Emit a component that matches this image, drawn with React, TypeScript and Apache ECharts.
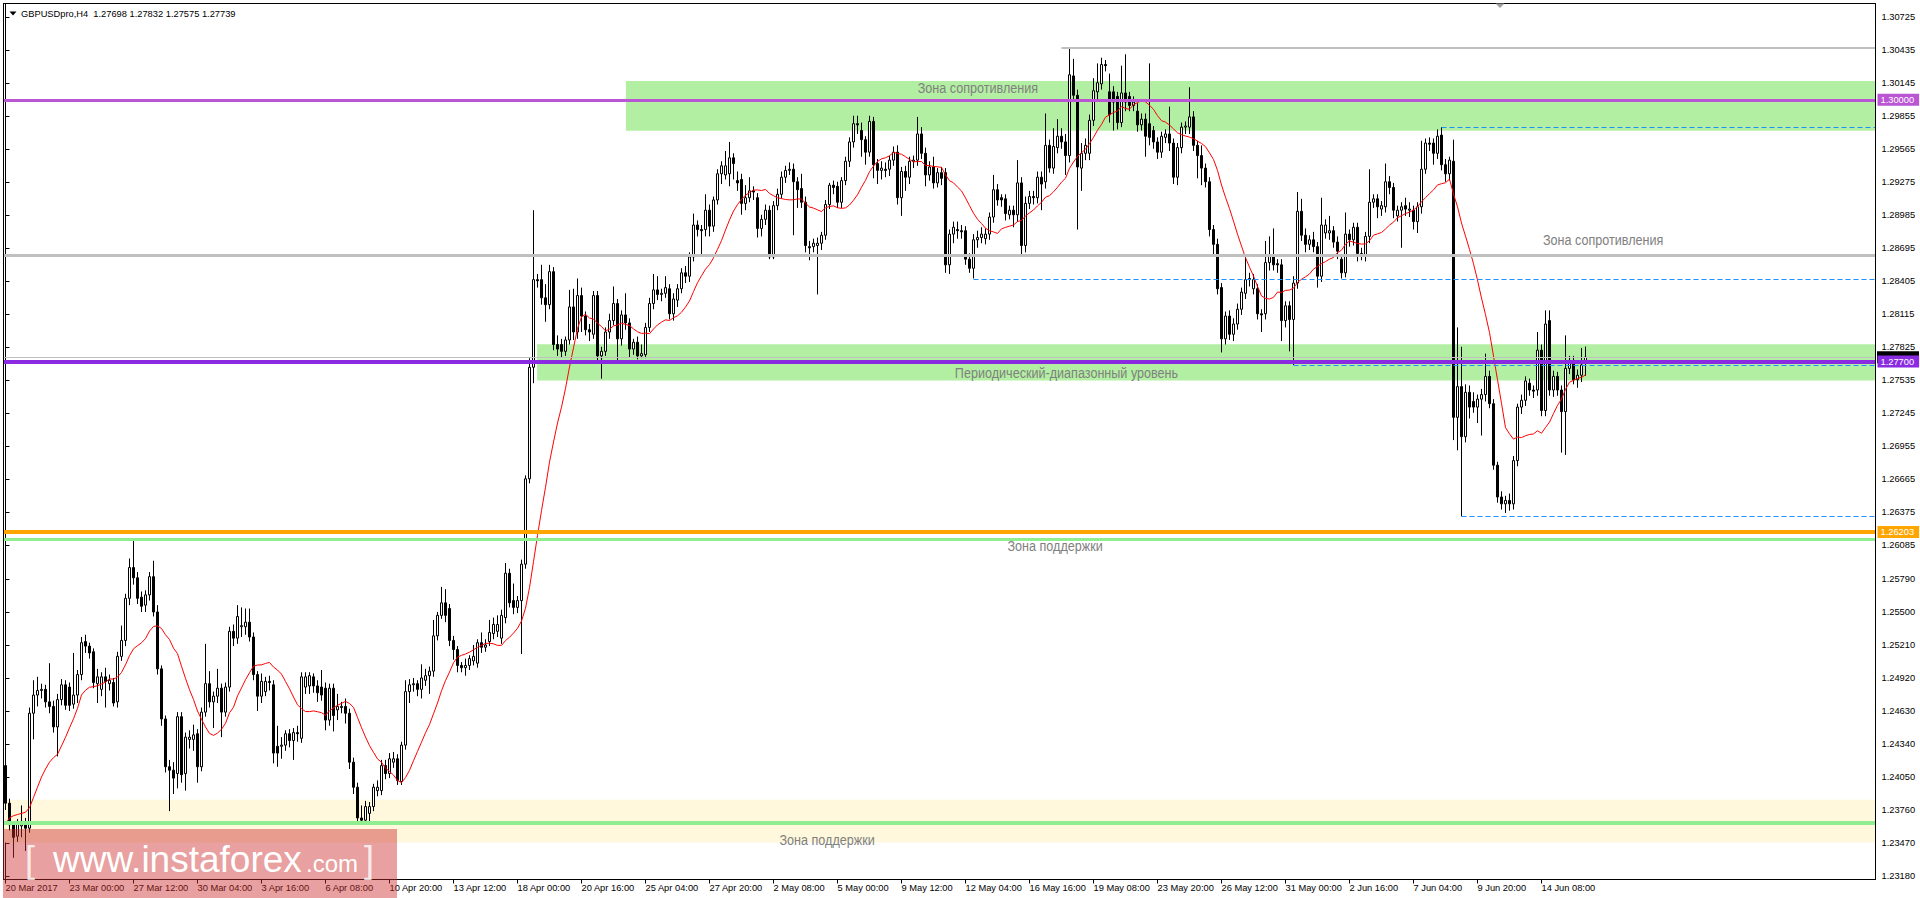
import { useEffect, useRef } from "react";
import * as echarts from "echarts";

const FONT = "'Liberation Sans', Arial, Helvetica, sans-serif";

const headerText = "GBPUSDpro,H4\u00a0 1.27698 1.27832 1.27575 1.27739";

// time axis: one slot per H4 bar, labels every 16 bars
const timeTicks = [
  "20 Mar 2017", "23 Mar 00:00", "27 Mar 12:00", "30 Mar 04:00", "3 Apr 16:00",
  "6 Apr 08:00", "10 Apr 20:00", "13 Apr 12:00", "18 Apr 00:00", "20 Apr 16:00",
  "25 Apr 04:00", "27 Apr 20:00", "2 May 08:00", "5 May 00:00", "9 May 12:00",
  "12 May 04:00", "16 May 16:00", "19 May 08:00", "23 May 20:00", "26 May 12:00",
  "31 May 00:00", "2 Jun 16:00", "7 Jun 04:00", "9 Jun 20:00", "14 Jun 08:00",
];
const TIME_TICK_STEP = 16;
const SLOT_COUNT = 468;

const priceTicks = [
  1.30725, 1.30435, 1.30145, 1.29855, 1.29565, 1.29275, 1.28985, 1.28695, 1.28405,
  1.28115, 1.27825, 1.27535, 1.27245, 1.26955, 1.26665, 1.26375, 1.26085, 1.2579,
  1.255, 1.2521, 1.2492, 1.2463, 1.2434, 1.2405, 1.2376, 1.2347, 1.2318,
];
const PRICE_MIN = 1.2314922;
const PRICE_MAX = 1.3084626;

// bars: [open, close, low, high]
const barsA = [
  [1.2415,1.2382,1.2376,1.2424],[1.2382,1.2363,1.2358,1.2386],[1.2363,1.2352,1.2334,1.2366],[1.2353,1.2365,1.2348,1.2368],
  [1.2362,1.2366,1.2352,1.238],[1.2365,1.236,1.234,1.2369],[1.236,1.2461,1.2356,1.2466],[1.2461,1.2477,1.2438,1.249],
  [1.2477,1.2481,1.2467,1.2493],[1.2481,1.2482,1.2474,1.2487],[1.2482,1.2471,1.2466,1.2486],[1.2471,1.2467,1.2461,1.2505],
  [1.2467,1.2449,1.2444,1.2472],[1.2449,1.2473,1.2423,1.2478],[1.2473,1.2486,1.2468,1.2491],[1.2486,1.2468,1.2464,1.249],
  [1.2484,1.2468,1.2463,1.2488],[1.2469,1.2477,1.2465,1.2514],[1.2477,1.2495,1.247,1.2499],[1.2495,1.2523,1.249,1.2528],
  [1.2524,1.252,1.2514,1.253],[1.252,1.2514,1.2509,1.2523],[1.2515,1.2488,1.2483,1.2518],[1.2487,1.2493,1.247,1.25],
  [1.2482,1.2493,1.2476,1.2497],[1.2493,1.2489,1.2466,1.2501],[1.2487,1.249,1.2481,1.2495],[1.2488,1.247,1.2467,1.2492],
  [1.2471,1.2511,1.2466,1.2515],[1.2511,1.2525,1.2507,1.2538],[1.2525,1.2562,1.252,1.2566],[1.2562,1.2589,1.2556,1.2597],
  [1.2589,1.258,1.2574,1.2614],[1.258,1.2562,1.2557,1.2585],[1.2563,1.2555,1.255,1.2568],[1.2556,1.2565,1.255,1.2569],
  [1.2565,1.2581,1.256,1.2585],[1.2581,1.255,1.2546,1.2595],[1.255,1.25,1.2495,1.2556],[1.25,1.2456,1.245,1.2503],
  [1.2456,1.2414,1.2409,1.2459],[1.2414,1.2411,1.2375,1.242],[1.2411,1.2404,1.239,1.2418],[1.2408,1.2458,1.2395,1.2462],
  [1.2458,1.2407,1.24,1.2462],[1.2408,1.244,1.2393,1.2444],[1.2438,1.244,1.243,1.2446],[1.2438,1.2442,1.2428,1.2451],
  [1.2443,1.2414,1.24,1.2447],[1.2414,1.2462,1.241,1.2466],[1.2462,1.2487,1.2458,1.2522],[1.2487,1.2471,1.2466,1.2498],
  [1.2471,1.2476,1.2448,1.248],[1.2476,1.2483,1.247,1.25],[1.2483,1.2462,1.244,1.2487],[1.2462,1.2484,1.2458,1.2488],
  [1.2484,1.2533,1.248,1.2537],[1.2533,1.2527,1.252,1.2539],[1.2527,1.2546,1.2522,1.2556],[1.2537,1.2538,1.2528,1.2554],
  [1.2537,1.2541,1.253,1.2553],[1.2541,1.2528,1.2524,1.2553],[1.2528,1.2495,1.249,1.2532],[1.2495,1.2476,1.2463,1.2498],
  [1.2476,1.2489,1.247,1.2496],[1.248,1.2489,1.2476,1.2493],[1.2489,1.2488,1.2481,1.2494],[1.2486,1.2426,1.2417,1.249],
  [1.2432,1.2426,1.2414,1.245],[1.2432,1.2433,1.2421,1.244],[1.2433,1.2443,1.2428,1.2446],[1.2443,1.2437,1.2431,1.2447],
  [1.2437,1.2444,1.242,1.2448],[1.2444,1.2443,1.2436,1.245],[1.2439,1.2493,1.2435,1.2497],[1.2484,1.2493,1.2478,1.2497],
  [1.2485,1.2494,1.2478,1.2497],[1.2493,1.2485,1.2479,1.2496],[1.2485,1.2479,1.2471,1.249],[1.2484,1.2477,1.2472,1.2499],
  [1.2483,1.2455,1.2446,1.2488],[1.2455,1.2483,1.245,1.2487],[1.2483,1.2459,1.2445,1.2487],[1.2464,1.2467,1.2455,1.2478],
  [1.2466,1.2467,1.2461,1.2471],[1.2467,1.2461,1.2452,1.2474],[1.2461,1.2418,1.2412,1.2465],[1.2418,1.2396,1.239,1.2422],
  [1.2396,1.2369,1.2363,1.24],[1.2369,1.2367,1.2364,1.238],[1.2367,1.2379,1.2364,1.2384],[1.2373,1.2379,1.2366,1.2383],
  [1.2379,1.2396,1.2375,1.2399],[1.2393,1.2396,1.2388,1.2402],[1.2393,1.2415,1.2389,1.242],[1.2415,1.2408,1.2403,1.242],
  [1.2408,1.2421,1.2404,1.2426],[1.2418,1.2421,1.2413,1.2427],[1.2421,1.2402,1.2398,1.2425],
];
const barsB = [
  [1.2401,1.2433,1.2398,1.2436],[1.2433,1.248,1.2429,1.249],[1.248,1.2486,1.247,1.2491],[1.2486,1.2487,1.248,1.2492],
  [1.2487,1.2482,1.2476,1.249],[1.2482,1.2492,1.2474,1.2504],[1.249,1.2494,1.2485,1.25],[1.2494,1.2498,1.2478,1.2502],
  [1.2498,1.2529,1.2493,1.2543],[1.2529,1.2547,1.2525,1.255],[1.2547,1.2558,1.2544,1.2572],[1.2558,1.2547,1.2541,1.257],
  [1.2553,1.2525,1.252,1.2557],[1.2525,1.2517,1.2508,1.2529],[1.2517,1.2503,1.2497,1.252],[1.2503,1.2501,1.2497,1.2506],
  [1.2501,1.2503,1.2494,1.2509],[1.2503,1.2509,1.2499,1.2512],[1.2507,1.2511,1.2503,1.2521],[1.2505,1.2523,1.2501,1.2526],
  [1.2523,1.2519,1.2514,1.2532],[1.2519,1.2521,1.2515,1.2526],[1.2524,1.2532,1.252,1.2543],[1.2531,1.2539,1.2526,1.2545],
  [1.2533,1.2539,1.2528,1.2547],[1.2527,1.2547,1.2522,1.2552],[1.2545,1.2584,1.254,1.2593],[1.2584,1.2558,1.2554,1.2588],
  [1.256,1.2554,1.2548,1.2575],[1.2554,1.256,1.2549,1.2564],[1.256,1.2592,1.2513,1.2596],[1.2592,1.2667,1.2588,1.267],
  [1.2667,1.2765,1.2663,1.2773],[1.2765,1.2842,1.2751,1.2903],[1.2842,1.2841,1.2835,1.2847],[1.2842,1.2826,1.282,1.2855],
  [1.2826,1.282,1.2805,1.2838],[1.282,1.2849,1.2816,1.2855],[1.2849,1.2785,1.278,1.2853],[1.2785,1.2781,1.2775,1.2793],
  [1.2785,1.2779,1.2774,1.279],[1.2779,1.2789,1.2775,1.2792],[1.2789,1.2818,1.2785,1.2833],[1.2818,1.2796,1.2789,1.2834],
  [1.2796,1.2828,1.279,1.2843],[1.2828,1.281,1.2796,1.2835],[1.281,1.2798,1.2793,1.2814],[1.2798,1.2796,1.2788,1.2803],
  [1.2794,1.2828,1.279,1.2832],[1.2828,1.2775,1.2771,1.2832],[1.2775,1.2779,1.2755,1.2783],[1.2779,1.2796,1.2775,1.28],
  [1.2796,1.2806,1.279,1.2812],[1.2806,1.2821,1.2802,1.2836],[1.2821,1.279,1.2771,1.2825],[1.279,1.2811,1.2784,1.2815],
  [1.2811,1.2804,1.2798,1.283],[1.2804,1.2781,1.2774,1.2808],[1.2781,1.2787,1.2776,1.279],[1.2787,1.2775,1.2772,1.2792],
  [1.2775,1.2777,1.2773,1.2785],[1.2776,1.28,1.2773,1.2804],[1.28,1.2821,1.2796,1.2826],[1.2821,1.2833,1.2816,1.2847],
  [1.2833,1.2829,1.2824,1.2845],[1.2829,1.283,1.2823,1.2834],[1.283,1.2835,1.2826,1.2845],[1.2834,1.2812,1.2807,1.2838],
  [1.2812,1.2825,1.2806,1.283],[1.2824,1.2834,1.2818,1.2838],[1.2834,1.2848,1.283,1.2852],[1.2848,1.2845,1.2839,1.2854],
  [1.2845,1.2862,1.284,1.2866],[1.2862,1.289,1.2858,1.29],[1.289,1.2886,1.288,1.2894],[1.2886,1.2885,1.2862,1.289],
  [1.2886,1.2903,1.288,1.2917],[1.2903,1.2889,1.288,1.2908],[1.2889,1.2912,1.2884,1.2915],[1.2912,1.2935,1.2908,1.2939],
  [1.2935,1.2942,1.2926,1.2946],[1.2934,1.2942,1.293,1.2955],[1.2935,1.2949,1.2924,1.2963],[1.2949,1.2944,1.293,1.2953],
  [1.2929,1.2927,1.292,1.2937],[1.293,1.2909,1.2899,1.2935],[1.2909,1.2914,1.2903,1.2925],[1.2914,1.292,1.291,1.2932],
  [1.292,1.2919,1.2912,1.2924],[1.2914,1.2887,1.2879,1.2918],[1.2887,1.2895,1.288,1.2899],[1.2895,1.2903,1.289,1.2908],
  [1.2903,1.2862,1.286,1.2907],[1.2862,1.2907,1.286,1.2911],[1.2907,1.2917,1.2903,1.2922],[1.2917,1.2932,1.2913,1.2937],
  [1.2932,1.2938,1.2927,1.2942],[1.2938,1.2939,1.2934,1.2945],[1.2939,1.2928,1.2881,1.2944],[1.2928,1.2921,1.2905,1.2932],
];
const barsC = [
  [1.2922,1.291,1.2905,1.2935],[1.291,1.2872,1.2866,1.2915],[1.2871,1.287,1.2859,1.2876],[1.2871,1.2874,1.2866,1.2878],
  [1.2872,1.2874,1.2829,1.2879],[1.2874,1.2881,1.2868,1.2884],[1.2881,1.2908,1.2877,1.2912],[1.2908,1.2925,1.2904,1.2927],
  [1.2925,1.2923,1.2917,1.2929],[1.2924,1.291,1.2905,1.2928],[1.291,1.2929,1.2905,1.2932],[1.2929,1.2946,1.2925,1.295],
  [1.2946,1.2963,1.2941,1.2967],[1.2963,1.2979,1.2958,1.2986],[1.2979,1.2978,1.297,1.2986],[1.2973,1.2965,1.295,1.298],
  [1.2965,1.2954,1.2943,1.2968],[1.2954,1.2981,1.295,1.2986],[1.2981,1.2943,1.2931,1.2985],[1.2944,1.2938,1.2926,1.2948],
  [1.2938,1.294,1.293,1.2946],[1.2939,1.2938,1.2932,1.2945],[1.2939,1.2947,1.2933,1.2951],[1.2947,1.2954,1.2942,1.2959],
  [1.2954,1.2914,1.2908,1.296],[1.2914,1.2937,1.2898,1.2941],[1.2937,1.2932,1.292,1.2942],[1.2932,1.2946,1.2926,1.295],
  [1.2946,1.2947,1.294,1.2951],[1.2947,1.297,1.2942,1.2985],[1.297,1.2953,1.2948,1.2976],[1.2953,1.2934,1.2924,1.2958],
  [1.2934,1.2941,1.2929,1.2946],[1.2941,1.2927,1.2922,1.295],[1.2927,1.2936,1.2923,1.294],[1.2936,1.2931,1.2925,1.2941],
  [1.2936,1.2855,1.2848,1.294],[1.2855,1.2882,1.2847,1.2886],[1.2882,1.2888,1.2874,1.2893],[1.2886,1.2885,1.2878,1.2893],
  [1.2885,1.2884,1.2878,1.289],[1.2885,1.286,1.2855,1.2889],[1.286,1.2852,1.2848,1.2865],[1.2852,1.2877,1.2843,1.2882],
  [1.2877,1.2879,1.287,1.2885],[1.2879,1.2882,1.2874,1.2888],[1.2878,1.2882,1.2873,1.2887],[1.2882,1.2897,1.2877,1.2901],
  [1.2897,1.2921,1.2892,1.2934],[1.2921,1.2912,1.2907,1.2926],[1.2914,1.2912,1.2906,1.2917],[1.2913,1.29,1.2894,1.2917],
  [1.2899,1.2903,1.2895,1.2907],[1.2903,1.2899,1.2888,1.2907],[1.2899,1.2927,1.2893,1.2947],[1.2927,1.2872,1.2863,1.2932],
  [1.2872,1.2909,1.2866,1.2915],[1.2909,1.2915,1.2904,1.292],[1.2915,1.2914,1.2908,1.292],[1.2914,1.2932,1.2909,1.2937],
  [1.2932,1.2926,1.2903,1.2937],[1.2928,1.296,1.2922,1.2988],[1.296,1.294,1.2936,1.2965],[1.294,1.2959,1.2935,1.2975],
  [1.2958,1.2968,1.2953,1.2983],[1.2968,1.2963,1.2957,1.2975],[1.2963,1.2951,1.2934,1.297],[1.2951,1.3022,1.2945,1.3045],
  [1.3021,1.3004,1.2998,1.3036],[1.3004,1.2941,1.2886,1.3009],[1.294,1.2953,1.292,1.2962],[1.2953,1.296,1.2947,1.2966],
  [1.2953,1.2982,1.2947,1.2987],[1.2982,1.3008,1.2977,1.3019],[1.3007,1.3015,1.3,1.3032],[1.3014,1.3031,1.3009,1.3037],
  [1.3031,1.303,1.3025,1.3035],[1.3007,1.2987,1.298,1.3023],[1.3007,1.2998,1.2973,1.3012],[1.3003,1.298,1.2974,1.3007],
  [1.298,1.3006,1.2976,1.303],[1.3006,1.2998,1.299,1.304],[1.3003,1.2995,1.299,1.3007],[1.2995,1.2998,1.299,1.3003],
  [1.299,1.2978,1.2972,1.2997],[1.2978,1.2983,1.2973,1.2988],[1.2983,1.2968,1.295,1.2988],[1.2979,1.2967,1.296,1.3032],
  [1.2973,1.2963,1.2957,1.2977],[1.2963,1.2954,1.2948,1.2967],[1.2954,1.2968,1.2949,1.2972],[1.2967,1.297,1.2962,1.2974],
  [1.297,1.2962,1.2955,1.2994],[1.2962,1.2932,1.2926,1.2966],[1.2932,1.2958,1.2925,1.2962],[1.2958,1.2976,1.2953,1.298],
  [1.2976,1.2977,1.297,1.2981],[1.2976,1.2985,1.297,1.3011],[1.2985,1.296,1.2955,1.299],[1.296,1.2951,1.2931,1.2964],
];
const barsD = [
  [1.2951,1.294,1.2925,1.296],[1.294,1.2928,1.2923,1.2944],[1.2928,1.2886,1.288,1.2932],[1.2886,1.2873,1.2864,1.289],
  [1.2873,1.2834,1.2829,1.2878],[1.2835,1.279,1.2778,1.2839],[1.279,1.281,1.2785,1.2814],[1.281,1.2794,1.2789,1.2815],
  [1.2794,1.2803,1.2788,1.2808],[1.2803,1.2816,1.2798,1.2821],[1.2816,1.2831,1.2811,1.2835],[1.283,1.2842,1.2825,1.2862],
  [1.2842,1.2843,1.2836,1.2848],[1.2834,1.2842,1.2829,1.2847],[1.2834,1.2812,1.2807,1.2838],[1.2812,1.2811,1.2796,1.2816],
  [1.2812,1.2857,1.2807,1.2876],[1.2857,1.2864,1.285,1.288],[1.2864,1.2855,1.285,1.2887],[1.2856,1.2855,1.2848,1.286],
  [1.2855,1.2806,1.2788,1.286],[1.2806,1.2819,1.28,1.2823],[1.2819,1.2807,1.2779,1.2823],[1.2807,1.2839,1.2767,1.2845],
  [1.2839,1.2902,1.2834,1.2919],[1.2902,1.2881,1.2876,1.2913],[1.2881,1.2873,1.2866,1.2887],[1.2873,1.2877,1.2868,1.2881],
  [1.2877,1.2871,1.2866,1.2884],[1.2871,1.2845,1.2835,1.2875],[1.2845,1.289,1.284,1.2914],[1.2883,1.289,1.2878,1.2895],
  [1.2883,1.2885,1.2877,1.2898],[1.2885,1.2875,1.287,1.2889],[1.2875,1.2867,1.286,1.288],[1.286,1.2848,1.2843,1.2864],
  [1.2848,1.2882,1.2844,1.2901],[1.2882,1.2877,1.2871,1.2886],[1.2877,1.2888,1.2872,1.2892],[1.2888,1.2865,1.2858,1.2892],
  [1.2865,1.2865,1.2859,1.287],[1.2864,1.288,1.2858,1.2884],[1.288,1.291,1.2874,1.2939],[1.291,1.2913,1.2905,1.2917],
  [1.2913,1.2906,1.2896,1.2917],[1.2904,1.2907,1.2898,1.2911],[1.2906,1.2928,1.2901,1.2944],[1.2928,1.2923,1.2917,1.2933],
  [1.2923,1.2903,1.2896,1.2927],[1.2898,1.2903,1.2893,1.2907],[1.2903,1.2906,1.287,1.291],[1.2907,1.2904,1.2898,1.2914],
  [1.2903,1.2904,1.2897,1.291],[1.2903,1.2893,1.2886,1.2907],[1.2893,1.2906,1.2883,1.291],[1.2906,1.2939,1.29,1.2964],
  [1.2939,1.2962,1.2935,1.2966],[1.2962,1.2961,1.2955,1.2967],[1.2962,1.2953,1.2943,1.2966],[1.2953,1.2968,1.2948,1.2974],
  [1.2969,1.2943,1.2938,1.2976],[1.2943,1.2935,1.2928,1.2948],[1.2935,1.2947,1.2929,1.295],[1.2946,1.2721,1.2701,1.2965],
  [1.2721,1.2748,1.2692,1.28],[1.2748,1.2704,1.2634,1.2783],[1.2704,1.2743,1.2699,1.275],[1.2743,1.273,1.272,1.2749],
  [1.2735,1.273,1.2725,1.2743],[1.273,1.2737,1.2716,1.2741],[1.2737,1.2741,1.2705,1.2746],[1.2741,1.2757,1.2735,1.2777],
  [1.2757,1.2733,1.2729,1.2762],[1.2733,1.2679,1.2675,1.2737],[1.2679,1.2651,1.2646,1.2682],[1.2651,1.2645,1.264,1.2656],
  [1.2645,1.2648,1.2637,1.2652],[1.2648,1.2645,1.2639,1.2654],[1.2645,1.2683,1.264,1.2687],[1.2683,1.273,1.2678,1.2733],
  [1.273,1.2736,1.2724,1.2741],[1.2736,1.2753,1.2731,1.2757],[1.2751,1.2745,1.274,1.2755],[1.2745,1.2744,1.2738,1.2749],
  [1.2745,1.278,1.274,1.2796],[1.278,1.2727,1.2722,1.2785],[1.2727,1.2803,1.2722,1.2815],[1.2806,1.2745,1.274,1.2815],
  [1.2745,1.2757,1.2739,1.2762],[1.2757,1.2745,1.274,1.2761],[1.2745,1.2726,1.269,1.2749],[1.2726,1.2764,1.2688,1.2793],
  [1.2764,1.2771,1.2759,1.2775],[1.2771,1.2754,1.275,1.2775],[1.2754,1.2758,1.2747,1.2763],[1.2758,1.2767,1.2752,1.2782],
  [1.27698,1.27739,1.27575,1.27832],
];

// moving average (14, close) – values of the first 13 bars
const MA_PERIOD = 14;
const maHead = [1.2364, 1.2369, 1.2371, 1.2372, 1.2373, 1.2374, 1.2378, 1.2387, 1.2396, 1.2405, 1.2412, 1.2418, 1.2422];

const ZONE_GREEN = "#b3efa2";
const zones = [
  { from: 155.1, top: 1.30165, bottom: 1.29729, color: ZONE_GREEN },
  { from: 132.9, top: 1.27852, bottom: 1.27534, color: ZONE_GREEN },
  { from: null as number | null, top: 1.23849, bottom: 1.23474, color: "#fff8dc" },
];

// current bid (its price tag sits behind the 1.27700 tag)
const BID_PRICE = 1.27739;

const levels = [
  { price: BID_PRICE, color: "#c0c0c0", width: 1, tag: "", tagBg: "" },
  { price: 1.28633, color: "#c0c0c0", width: 3, tag: "", tagBg: "" },
  { price: 1.3, color: "#ba55d3", width: 3, tag: "1.30000", tagBg: "#ba55d3" },
  { price: 1.277, color: "#8a2be2", width: 4, tag: "1.27700", tagBg: "#8a2be2" },
  { price: 1.26203, color: "#ffa500", width: 4, tag: "1.26203", tagBg: "#ffa500" },
  { price: 1.26138, color: "#90ee90", width: 3, tag: "", tagBg: "" },
  { price: 1.23648, color: "#90ee90", width: 4, tag: "", tagBg: "" },
];

const rays = [
  { from: 264, price: 1.30458, color: "#c0c0c0", width: 2, dashed: false },
  { from: 359, price: 1.29758, color: "#1e90ff", width: 1, dashed: true },
  { from: 242, price: 1.28423, color: "#1e90ff", width: 1, dashed: true },
  { from: 322, price: 1.2767, color: "#1e90ff", width: 1, dashed: true },
  { from: 364, price: 1.26337, color: "#1e90ff", width: 1, dashed: true },
];

const notes = [
  { text: "Зона сопротивления", at: 243.1, price: 1.30108 },
  { text: "Зона сопротивления", at: 399.4, price: 1.28768 },
  { text: "Периодический-диапазонный уровень", at: 265.25, price: 1.27604 },
  { text: "Зона поддержки", at: 262.4, price: 1.2608 },
  { text: "Зона поддержки", at: 205.4, price: 1.23496 },
];

export default function App() {
  const ref = useRef<HTMLDivElement>(null);

  useEffect(() => {
    const el = ref.current;
    if (!el) return;
    const chart = echarts.init(el, null, { renderer: "svg" });

    const bars = [...barsA, ...barsB, ...barsC, ...barsD];
    const candleData = bars.map((b, i) => [i, b[0], b[1], b[2], b[3]]);
    const closes = bars.map((b) => b[1]);
    const maData = closes.map((_, i) => {
      if (i < MA_PERIOD - 1) return [i, maHead[i]];
      let s = 0;
      for (let k = i - MA_PERIOD + 1; k <= i; k++) s += closes[k];
      return [i, s / MA_PERIOD];
    });
    const timeTickIdx = timeTicks.map((_, k) => k * TIME_TICK_STEP);
    const right = SLOT_COUNT - 0.5;

    const areaData = zones.map((z) =>
      z.from == null
        ? [{ yAxis: z.top, itemStyle: { color: z.color, opacity: 1 } }, { yAxis: z.bottom }]
        : [{ xAxis: z.from, yAxis: z.top, itemStyle: { color: z.color, opacity: 1 } }, { xAxis: right, yAxis: z.bottom }]
    );

    const levelData: any[] = levels.map((l) => ({
      yAxis: l.price,
      lineStyle: { color: l.color, width: l.width, type: "solid", opacity: 1 },
      label: l.tag
        ? {
            show: true,
            position: "end",
            formatter: l.tag,
            color: "#ffffff",
            backgroundColor: l.tagBg,
            padding: [2, 5, 1, 3],
            fontSize: 9.3,
            fontFamily: FONT,
            distance: 2,
          }
        : { show: false },
    }));
    const rayData: any[] = rays.map((r) => [
      {
        xAxis: r.from,
        yAxis: r.price,
        lineStyle: { color: r.color, width: r.width, type: r.dashed ? [5, 3] : "solid", opacity: 1 },
        label: { show: false },
      },
      { xAxis: right, yAxis: r.price },
    ]);

    const option: any = {
      animation: false,
      backgroundColor: "#ffffff",
      grid: {
        left: 3.5,
        top: 3.5,
        width: SLOT_COUNT * 4,
        height: 876,
        show: true,
        borderColor: "#000",
        borderWidth: 1,
        backgroundColor: "#ffffff",
        containLabel: false,
        outerBoundsMode: "none",
      },
      xAxis: {
        type: "value",
        min: -0.5,
        max: right,
        position: "bottom",
        axisLine: { show: true, onZero: false, lineStyle: { color: "#000", width: 1 } },
        axisTick: { show: true, length: 4, lineStyle: { color: "#000" }, customValues: timeTickIdx },
        axisLabel: {
          show: true,
          customValues: timeTickIdx,
          formatter: (v: number) => timeTicks[Math.round(v / TIME_TICK_STEP)] ?? "",
          align: "left",
          margin: 4,
          fontSize: 9.3,
          fontFamily: FONT,
          color: "#000",
        },
        splitLine: { show: false },
      },
      yAxis: {
        type: "value",
        position: "right",
        min: PRICE_MIN,
        max: PRICE_MAX,
        axisLine: { show: true, lineStyle: { color: "#000", width: 1 } },
        axisTick: { show: true, length: 4, lineStyle: { color: "#000" }, customValues: priceTicks },
        axisLabel: {
          show: true,
          customValues: priceTicks,
          formatter: (v: number) => v.toFixed(5),
          align: "left",
          margin: 6,
          fontSize: 9.3,
          fontFamily: FONT,
          color: "#000",
        },
        splitLine: { show: false },
      },
      series: [
        {
          type: "candlestick",
          name: "GBPUSDpro,H4",
          data: candleData,
          barWidth: 2,
          z: 2,
          silent: true,
          itemStyle: {
            color: "#ffffff",
            color0: "#000000",
            borderColor: "#000000",
            borderColor0: "#000000",
            borderWidth: 1,
          },
          markArea: { silent: true, data: areaData, label: { show: false } },
          markLine: {
            silent: true,
            symbol: ["none", "none"],
            label: { show: false },
            precision: 5,
            data: [...levelData, ...rayData],
          },
        },
        {
          type: "line",
          name: "MA(14)",
          data: maData,
          showSymbol: false,
          symbol: "none",
          z: 3,
          silent: true,
          lineStyle: { color: "#ff0000", width: 1 },
        },
      ],
    };

    chart.setOption(option);

    const noteGraphics = notes.map((n) => {
      const p = chart.convertToPixel({ gridIndex: 0 }, [n.at, n.price]) as number[];
      return {
        type: "text",
        x: p[0],
        y: p[1],
        scaleX: 0.84,
        z: 60,
        silent: true,
        style: {
          text: n.text,
          fill: "#808080",
          font: `15px ${FONT}`,
          align: "center",
          verticalAlign: "middle",
          textAlign: "center",
          textVerticalAlign: "middle",
        },
      };
    });

    const plotRight = 3.5 + SLOT_COUNT * 4;
    const bidY = chart.convertToPixel({ yAxisIndex: 0 }, BID_PRICE) as number;

    const staticGraphics: any[] = [
      // frame
      {
        type: "rect",
        z: 90,
        silent: true,
        shape: { x: 3.5, y: 3.5, width: SLOT_COUNT * 4, height: 876 },
        style: { fill: "none", stroke: "#000", lineWidth: 1 },
      },
      // bid price tag (mostly hidden behind the 1.27700 tag)
      {
        type: "rect",
        z: 1,
        silent: true,
        shape: { x: plotRight + 1.5, y: bidY - 6, width: 42, height: 12 },
        style: { fill: "#000" },
      },
      // header
      {
        type: "polygon",
        z: 91,
        silent: true,
        shape: { points: [[9.5, 11.5], [16.5, 11.5], [13, 15.5]] },
        style: { fill: "#000" },
      },
      {
        type: "text",
        z: 91,
        silent: true,
        x: 21,
        y: 14,
        style: {
          text: headerText,
          fill: "#000",
          font: `9.3px ${FONT}`,
          align: "left",
          verticalAlign: "middle",
          textAlign: "left",
          textVerticalAlign: "middle",
        },
      },
      // chart shift marker
      {
        type: "polygon",
        z: 91,
        silent: true,
        shape: { points: [[1495.5, 3.5], [1504.5, 3.5], [1500, 8]] },
        style: { fill: "#a0a0a0" },
      },
      // watermark
      {
        type: "group",
        z: 100,
        silent: true,
        children: [
          {
            type: "rect",
            z: 100,
            shape: { x: 3, y: 829, width: 394, height: 69 },
            style: { fill: "rgba(204,44,44,0.45)" },
          },
          {
            type: "text",
            z: 101,
            x: 25,
            y: 859,
            style: { text: "[", fill: "rgba(255,255,255,0.8)", font: `36px ${FONT}`, verticalAlign: "middle", textVerticalAlign: "middle" },
          },
          {
            type: "text",
            z: 101,
            x: 53,
            y: 859,
            style: { text: "www.instaforex", fill: "#ffffff", font: `37px ${FONT}`, verticalAlign: "middle", textVerticalAlign: "middle" },
          },
          {
            type: "text",
            z: 101,
            x: 306,
            y: 863.6,
            style: { text: ".com", fill: "#ffffff", font: `24px ${FONT}`, verticalAlign: "middle", textVerticalAlign: "middle" },
          },
          {
            type: "text",
            z: 101,
            x: 364,
            y: 859,
            style: { text: "]", fill: "rgba(255,255,255,0.8)", font: `36px ${FONT}`, verticalAlign: "middle", textVerticalAlign: "middle" },
          },
        ],
      },
    ];

    chart.setOption({ graphic: { elements: [...staticGraphics, ...noteGraphics] } });

    return () => {
      chart.dispose();
    };
  }, []);

  return (
    <div
      ref={ref}
      style={{ position: "fixed", left: 0, top: 0, width: 1920, height: 898, background: "#ffffff" }}
    />
  );
}
